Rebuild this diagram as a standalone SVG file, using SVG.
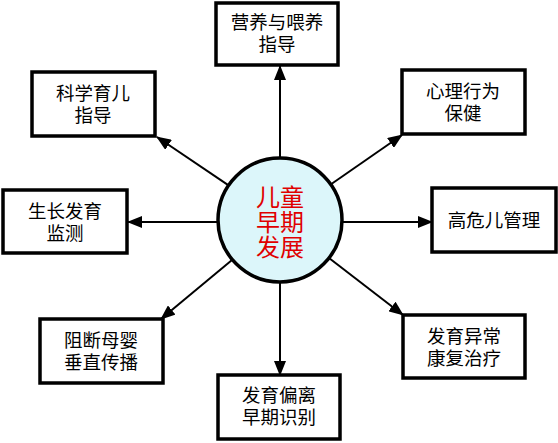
<svg xmlns="http://www.w3.org/2000/svg" width="558" height="443" viewBox="0 0 558 443">
<style>
.box{fill:#fff;stroke:#000;stroke-width:3.5}
.t{font-family:"Noto Sans CJK SC","Liberation Sans",sans-serif;font-size:18.5px;fill:#000;text-anchor:middle}
.c{font-family:"Noto Sans CJK SC","Liberation Sans",sans-serif;font-size:24px;fill:#e00000;text-anchor:middle}
.ln{stroke:#000;stroke-width:2;fill:none;marker-end:url(#ah)}
</style>
<defs>
<marker id="ah" markerUnits="userSpaceOnUse" markerWidth="15" markerHeight="12" refX="14" refY="6" orient="auto">
<path d="M0,0 L15,6 L0,12 Z" fill="#000"/>
</marker>
</defs>
<rect width="558" height="443" fill="#fff"/>
<g id="connectors">
<line class="ln" x1="280" y1="158" x2="280" y2="66"/>
<line class="ln" x1="228.6" y1="185.3" x2="157" y2="137"/>
<line class="ln" x1="331" y1="184.3" x2="402" y2="135"/>
<line class="ln" x1="218" y1="222" x2="128" y2="222"/>
<line class="ln" x1="342" y1="222" x2="432" y2="222"/>
<line class="ln" x1="232.3" y1="259.7" x2="161" y2="319"/>
<line class="ln" x1="329" y1="258" x2="403" y2="315"/>
<line class="ln" x1="280" y1="282" x2="280" y2="375"/>
</g>
<g id="center">
<circle cx="280" cy="220" r="62" fill="#dcf6fa" stroke="#000" stroke-width="3.5"/>
<text class="c" x="280" y="206">儿童<tspan x="280" dy="25">早期</tspan><tspan x="280" dy="25">发展</tspan></text>
</g>
<g id="n1">
<rect class="box" x="216" y="3" width="122" height="62"/>
<text class="t" x="277" y="29">营养与喂养<tspan x="277" dy="22">指导</tspan></text>
</g>
<g id="n2">
<rect class="box" x="32" y="72" width="123" height="64"/>
<text class="t" x="93" y="100">科学育儿<tspan x="93" dy="22">指导</tspan></text>
</g>
<g id="n3">
<rect class="box" x="402" y="70" width="123" height="64"/>
<text class="t" x="463" y="98">心理行为<tspan x="463" dy="22">保健</tspan></text>
</g>
<g id="n4">
<rect class="box" x="3" y="190" width="124" height="63"/>
<text class="t" x="65" y="218">生长发育<tspan x="65" dy="22">监测</tspan></text>
</g>
<g id="n5">
<rect class="box" x="432" y="188" width="124" height="64"/>
<text class="t" x="494" y="227">高危儿管理</text>
</g>
<g id="n6">
<rect class="box" x="40" y="319" width="123" height="64"/>
<text class="t" x="101" y="347">阻断母婴<tspan x="101" dy="22">垂直传播</tspan></text>
</g>
<g id="n7">
<rect class="box" x="403" y="315" width="122" height="63"/>
<text class="t" x="464" y="343">发育异常<tspan x="464" dy="22">康复治疗</tspan></text>
</g>
<g id="n8">
<rect class="box" x="218" y="375" width="122" height="64"/>
<text class="t" x="279" y="402">发育偏离<tspan x="279" dy="22">早期识别</tspan></text>
</g>
</svg>
